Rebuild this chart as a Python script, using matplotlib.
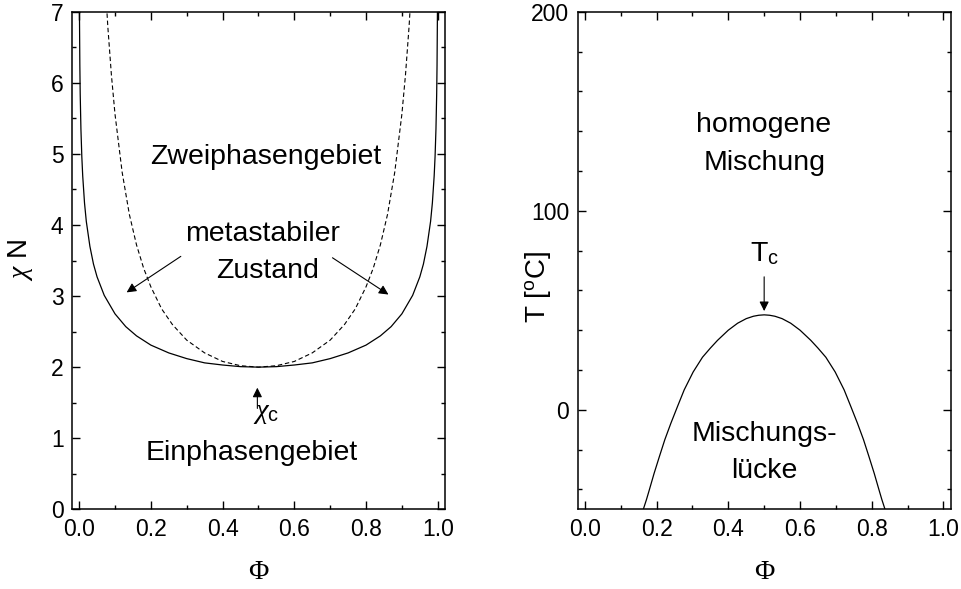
#!/usr/bin/env python3

from matplotlib import pyplot as pl
from matplotlib.ticker import MultipleLocator

pl.rcParams['font.family'] = ['Liberation Sans', 'DejaVu Sans']
pl.rcParams['mathtext.fontset'] = 'custom'
pl.rcParams['mathtext.rm'] = 'Liberation Sans'
pl.rcParams['mathtext.it'] = 'Liberation Serif:italic'

# binodal (solid)
phi_bin = [0.0009, 0.001, 0.002, 0.003, 0.005, 0.0075, 0.01, 0.015, 0.02, 0.03,
           0.04, 0.05, 0.07, 0.1, 0.13, 0.16, 0.2, 0.25, 0.3, 0.35, 0.4, 0.45,
           0.5, 0.55, 0.6, 0.65, 0.7, 0.75, 0.8, 0.84, 0.87, 0.9, 0.93, 0.95,
           0.96, 0.97, 0.98, 0.985, 0.99, 0.9925, 0.995, 0.997, 0.998, 0.999, 0.9991]
chi_bin = [7.02, 6.92, 6.24, 5.84, 5.35, 4.96, 4.69, 4.31, 4.05, 3.70,
           3.45, 3.27, 3.01, 2.75, 2.57, 2.44, 2.31, 2.20, 2.12, 2.06, 2.03, 2.007,
           2.0, 2.007, 2.03, 2.06, 2.12, 2.20, 2.31, 2.44, 2.57, 2.75, 3.01, 3.27,
           3.45, 3.70, 4.05, 4.31, 4.69, 4.96, 5.35, 5.84, 6.24, 6.92, 7.02]

# spinodal (dashed)
phi_spin = [0.075, 0.08, 0.09, 0.1, 0.12, 0.14, 0.16, 0.18, 0.2, 0.23, 0.26,
            0.3, 0.35, 0.4, 0.45, 0.5, 0.55, 0.6, 0.65, 0.7, 0.74, 0.77, 0.8,
            0.82, 0.84, 0.86, 0.88, 0.9, 0.91, 0.92, 0.925]
chi_spin = [7.21, 6.79, 6.11, 5.56, 4.74, 4.15, 3.72, 3.39, 3.13, 2.82, 2.60,
            2.38, 2.20, 2.08, 2.02, 2.0, 2.02, 2.08, 2.20, 2.38, 2.60, 2.82, 3.13,
            3.39, 3.72, 4.15, 4.74, 5.56, 6.11, 6.79, 7.21]

# miscibility gap, right panel
phi_gap = [0.163, 0.172, 0.180, 0.193, 0.208, 0.223, 0.240, 0.258, 0.277, 0.302,
           0.328, 0.350, 0.370, 0.400, 0.426, 0.450, 0.470, 0.485, 0.500,
           0.515, 0.530, 0.550, 0.574, 0.600, 0.630, 0.650, 0.672, 0.698,
           0.723, 0.742, 0.760, 0.777, 0.792, 0.807, 0.820, 0.828, 0.837]
T_gap = [-50, -45, -40.1, -32, -23.4, -15, -6.7, 1.5, 10.0, 19.0,
         26.4, 31.0, 34.9, 40.0, 43.5, 45.8, 47.0, 47.5, 47.7,
         47.5, 47.0, 45.8, 43.5, 40.0, 34.9, 31.0, 26.4, 19.0,
         10.0, 1.5, -6.7, -15, -23.4, -32, -40.1, -45, -50]

fig = pl.figure(figsize=(9.62, 5.89), dpi=100)
ax1 = fig.add_axes([0.0748, 0.1353, 0.3877, 0.8448])
ax2 = fig.add_axes([0.6005, 0.1353, 0.3877, 0.8448])

ax1.plot(phi_bin, chi_bin, color='black', lw=0.9)
ax1.plot(phi_spin, chi_spin, color='black', lw=0.8, linestyle=(0, (4, 2.5)))
ax1.set_xlim(-0.02, 1.02)
ax1.set_ylim(0, 7)
ax1.yaxis.set_major_locator(MultipleLocator(1))
ax1.yaxis.set_minor_locator(MultipleLocator(0.5))

ax2.plot(phi_gap, T_gap, color='black', lw=0.9)
ax2.set_xlim(-0.02, 1.02)
ax2.set_ylim(-50, 200)
ax2.yaxis.set_major_locator(MultipleLocator(100))
ax2.yaxis.set_minor_locator(MultipleLocator(20))

for ax in (ax1, ax2):
    ax.xaxis.set_major_locator(MultipleLocator(0.2))
    ax.xaxis.set_minor_locator(MultipleLocator(0.1))
    ax.xaxis.set_major_formatter('{x:.1f}')
    ax.tick_params(which='both', direction='in', top=True, right=True,
                   width=1.0, labelsize=16.5, pad=6)
    ax.tick_params(which='major', length=5.5)
    ax.tick_params(which='minor', length=3)
    for s in ax.spines.values():
        s.set_linewidth(1.1)
    ax.set_xlabel('Φ', family=['Liberation Serif'], fontsize=20, va='center')
    ax.xaxis.set_label_coords(0.5, -0.128)

ax1.set_ylabel('$\\chi$ N', fontsize=20, va='center', ha='center')
ax1.yaxis.set_label_coords(-0.137, 0.5)
ax2.set_ylabel('T [$^\\mathregular{o}$C]', fontsize=20, va='center', ha='center')
ax2.yaxis.set_label_coords(-0.107, 0.447)

fs = 20.5
ax1.text(0.52, 4.96, 'Zweiphasengebiet', fontsize=fs, ha='center', va='center')
ax1.text(0.51, 3.87, 'metastabiler', fontsize=fs, ha='center', va='center')
ax1.text(0.525, 3.35, 'Zustand', fontsize=fs, ha='center', va='center')
ax1.text(0.48, 0.79, 'Einphasengebiet', fontsize=fs, ha='center', va='center')
ax1.text(0.485, 1.36, '$\\chi_\\mathregular{c}$', fontsize=fs, ha='left', va='center')

arrow = dict(arrowstyle='-|>', color='black', lw=0.8, mutation_scale=14)
ax1.annotate('', xy=(0.126, 3.03), xytext=(0.29, 3.58), arrowprops=arrow)
ax1.annotate('', xy=(0.869, 3.0), xytext=(0.70, 3.56), arrowprops=arrow)
ax1.annotate('', xy=(0.497, 1.75), xytext=(0.497, 1.38), arrowprops=arrow)

ax2.text(0.497, 143.3, 'homogene', fontsize=fs, ha='center', va='center')
ax2.text(0.50, 123.8, 'Mischung', fontsize=fs, ha='center', va='center')
ax2.text(0.50, -12, 'Mischungs-', fontsize=fs, ha='center', va='center')
ax2.text(0.50, -31, 'lücke', fontsize=fs, ha='center', va='center')
ax2.text(0.50, 78.5, 'T$_\\mathregular{c}$', fontsize=fs, ha='center', va='center')
ax2.annotate('', xy=(0.50, 48.2), xytext=(0.50, 68.2), arrowprops=arrow)

fig.savefig('out.png', dpi=100)
